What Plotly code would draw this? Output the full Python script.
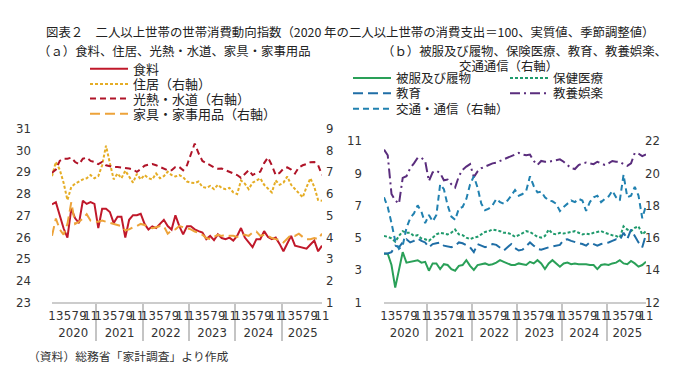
import plotly.graph_objects as go

# ---------------- data ----------------
years = [2020, 2021, 2022, 2023, 2024, 2025]
months_per_year = [12, 12, 12, 12, 12, 11]
month_tick_labels = ["1", " ", "3", "  ", "5", "   ", "7", "    ", "9", "     ", "11", "      "]

# (a) left axis
food = [27.5, 27.6, 27.0, 26.4, 25.97, 27.3, 26.86, 26.64, 27.67, 27.52, 27.6, 27.52,
        26.41, 27.3, 27.3, 27.15, 26.64, 26.93, 26.93, 25.97, 26.79, 27.0, 27.0, 27.07,
        26.6, 26.34, 26.49, 26.41, 26.6, 26.79, 26.5, 26.34, 27.0, 26.5, 26.12, 26.49,
        26.49, 26.35, 26.27, 26.2, 25.9, 26.05, 25.85, 26.12, 25.95, 25.9, 25.97, 25.83,
        26.05, 26.41, 25.97, 25.75, 25.53, 25.9, 25.9, 26.27, 26.0, 25.9, 25.97, 25.68,
        25.34, 25.7, 26.05, 25.6, 25.55, 25.53, 25.46, 25.65, 25.83, 25.34, 25.6]
# (a) right axis
housing = [6.8, 7.45, 7.1, 6.5, 5.7, 6.3, 6.45, 6.55, 6.65, 6.7, 6.85, 6.7,
           6.8, 7.3, 8.2, 7.4, 6.65, 6.92, 6.7, 7.05, 6.8, 6.5, 6.9, 6.65,
           6.85, 6.7, 6.65, 6.92, 6.7, 6.8, 7.0, 6.85, 6.78, 6.85, 6.75, 6.55,
           6.5, 6.48, 6.55, 6.3, 6.26, 6.35, 6.2, 6.4, 6.25, 6.2, 6.26, 6.05,
           5.97, 6.6, 6.45, 6.2, 6.5, 6.6, 6.7, 6.4, 6.2, 6.05, 6.6, 6.4,
           6.5, 6.78, 6.4, 6.2, 6.0, 5.82, 6.3, 6.7, 6.3, 5.7, 5.67]
utilities = [6.95, 7.1, 7.5, 7.6, 7.6, 7.65, 7.45, 7.35, 7.6, 7.65, 7.5, 7.45,
             7.35, 7.45, 7.3, 7.25, 7.22, 7.22, 7.2, 7.15, 7.15, 7.1, 7.0, 7.12,
             7.28, 7.33, 7.36, 7.3, 7.22, 7.15, 7.07, 7.07, 7.22, 7.22, 7.07, 7.3,
             7.8, 8.3, 7.85, 7.5, 7.4, 7.3, 7.2, 7.14, 7.15, 7.07, 7.0, 6.92,
             6.85, 6.72, 6.9, 7.07, 6.85, 6.95, 7.0, 7.4, 7.66, 7.3, 6.85, 6.95,
             7.14, 7.2, 7.1, 6.92, 7.2, 7.3, 7.36, 7.44, 7.45, 7.3, 6.85]
furniture = [4.05, 4.85, 4.35, 4.1, 4.6, 5.6, 4.6, 4.7, 4.85, 5.05, 4.75, 4.7,
             4.7, 4.75, 4.7, 4.65, 4.6, 4.55, 4.5, 4.3, 4.35, 4.45, 4.5, 4.6,
             4.55, 4.45, 4.4, 4.45, 4.5, 4.5, 4.15, 4.3, 4.35, 4.5, 4.45, 4.4,
             4.35, 4.25, 4.2, 4.1, 3.95, 3.9, 4.0, 4.1, 4.05, 4.1, 4.05, 4.05,
             4.0, 4.1, 4.1, 4.05, 4.2, 4.25, 4.05, 4.1, 4.05, 3.95, 3.9, 3.85,
             3.75, 3.95, 4.1, 4.05, 4.15, 4.0, 3.9, 3.9, 3.95, 3.9, 4.15]

# (b) left axis
clothing = [4.0, 4.0, 3.3, 1.9, 3.0, 4.1, 3.45, 3.5, 3.55, 3.6, 3.45, 3.5,
            2.95, 3.4, 3.4, 3.05, 3.35, 3.3, 3.05, 2.95, 3.25, 3.3, 3.6, 3.25,
            3.0, 3.3, 3.35, 3.4, 3.3, 3.35, 3.45, 3.6, 3.5, 3.4, 3.3, 3.3,
            3.4, 3.35, 3.3, 3.5, 3.4, 3.6, 3.4, 3.05, 3.4, 3.6, 3.4, 3.2,
            3.4, 3.45, 3.35, 3.4, 3.35, 3.35, 3.35, 3.3, 3.3, 3.05, 3.3, 3.35,
            3.3, 3.4, 3.45, 3.6, 3.4, 3.35, 3.55, 3.4, 3.2, 3.3, 3.5]
medical = [5.1, 5.05, 4.95, 4.75, 5.1, 5.4, 5.3, 5.3, 5.1, 5.15, 4.95, 4.9,
           4.8, 5.0, 5.2, 5.3, 5.25, 5.2, 5.3, 5.5, 5.2, 5.15, 5.0, 4.9,
           5.0, 5.05, 5.2, 5.35, 5.4, 5.5, 5.45, 5.4, 5.3, 5.3, 5.2, 5.05,
           5.15, 5.3, 5.4, 5.35, 5.2, 5.05, 5.0, 5.1, 5.5, 5.25, 5.2, 5.3,
           5.25, 5.3, 5.35, 5.4, 5.3, 5.2, 5.25, 5.2, 5.3, 5.35, 5.4, 5.3,
           5.2, 5.15, 5.1, 5.0, 5.7, 5.5, 5.4, 5.6, 5.7, 5.2, 5.4]
education = [4.02, 4.02, 4.1, 4.5, 4.4, 4.7, 4.9, 4.7, 4.8, 4.95, 4.8, 4.7,
             4.4, 4.6, 4.65, 4.7, 4.5, 4.45, 4.4, 4.5, 4.7, 4.65, 4.5, 4.4,
             4.1, 4.6, 4.5, 4.4, 4.5, 4.6, 4.55, 4.4, 4.2, 4.4, 4.6, 4.35,
             4.2, 4.25, 4.5, 4.7, 4.5, 4.3, 4.25, 4.35, 4.4, 4.45, 4.5, 4.55,
             4.85, 4.9, 4.8, 4.7, 4.65, 4.6, 4.5, 4.7, 4.6, 4.5, 4.6, 4.65,
             4.7, 4.8, 4.9, 4.85, 5.3, 4.9, 5.5, 5.1, 4.7, 4.4, 5.2]
recreation = [10.45, 10.1, 7.7, 7.3, 7.1, 8.7, 8.8, 9.3, 9.6, 9.95, 9.95, 9.75,
              8.5, 9.05, 9.15, 9.0, 8.55, 8.6, 8.3, 8.1, 8.8, 9.2, 9.4, 9.55,
              8.75, 9.1, 9.3, 9.4, 9.55, 9.6, 9.65, 9.75, 9.85, 9.95, 10.1, 10.2,
              10.25, 10.15, 10.1, 10.15, 9.75, 9.5, 9.75, 9.7, 9.7, 9.75, 9.8, 9.85,
              9.7, 9.5, 9.3, 9.25, 9.5, 9.6, 9.65, 9.6, 9.55, 9.7, 9.6, 9.5,
              9.6, 9.75, 9.7, 9.7, 9.55, 9.45, 9.6, 10.25, 10.2, 10.05, 10.15]
# (b) right axis
transport = [18.5, 17.9, 16.9, 15.8, 15.3, 15.5, 16.6, 17.2, 17.5, 18.0, 17.6, 16.9,
             17.4, 17.0, 17.4, 19.3, 19.0, 18.0, 17.3, 17.1, 17.8, 17.9, 18.4, 19.3,
             19.8, 19.1, 18.1, 17.7, 17.8, 18.0, 18.4, 18.2, 18.1, 18.3, 18.6, 18.95,
             18.6, 18.7, 18.9, 19.8, 19.2, 18.8, 18.85, 18.5, 18.3, 18.25, 18.1, 17.65,
             17.9, 18.1, 18.3, 18.2, 18.4, 18.3, 17.65, 18.2, 18.5, 18.6, 18.2, 18.4,
             18.55, 18.9, 18.5, 18.3, 19.9, 18.5, 18.6, 19.15, 18.6, 17.2, 18.0]

# categories (year / month) for the multicategory x axis
x_year, x_month = [], []
for yr, n in zip(years, months_per_year):
    for m in range(n):
        x_year.append(str(yr))
        x_month.append(month_tick_labels[m])
xcat = [x_year, x_month]

CJK = "Noto Sans CJK JP"
NUM = "Liberation Sans Narrow, DejaVu Sans Condensed, Roboto Condensed, sans-serif"
W, H = 680, 378

fig = go.Figure()

def add(name, y, color, dash, xa, ya, leg):
    fig.add_trace(go.Scatter(x=xcat, y=y, name=name, mode="lines",
                             line=dict(color=color, width=2, dash=dash),
                             xaxis=xa, yaxis=ya, legend=leg))

add("食料", food, "#c0182a", "solid", "x", "y", "legend")
add("住居（右軸）", housing, "#e5ad25", "3px,2px", "x", "y2", "legend2")
add("光熱・水道（右軸）", utilities, "#b01428", "6px,4px", "x", "y2", "legend3")
add("家具・家事用品（右軸）", furniture, "#eda33a", "10px,5px", "x", "y2", "legend4")

add("被服及び履物", clothing, "#2aa058", "solid", "x2", "y3", "legend5")
add("保健医療", medical, "#1f9a6c", "3px,2px", "x2", "y3", "legend6")
add("教育", education, "#1f6ea6", "10px,5px", "x2", "y3", "legend7")
add("教養娯楽", recreation, "#5a2d7d", "10px,4px,2px,4px", "x2", "y3", "legend8")
add("交通・通信（右軸）", transport, "#2181b0", "6px,4px", "x2", "y4", "legend9")

def px(x):
    return x / W

def py(y):
    return 1 - y / H

xcommon = dict(type="multicategory", showdividers=True, dividercolor="#c4c4c4",
               dividerwidth=2, showline=True, linecolor="#cccccc", linewidth=2,
               ticks="", tickangle=0, tickmode="linear", tick0=0, dtick=1,
               showgrid=False, zeroline=False,
               tickfont=dict(family=NUM, size=13, color="#333"))
ycommon = dict(showgrid=False, zeroline=False, showline=False, ticks="",
               tickfont=dict(family=NUM, size=13, color="#333"))

def leg(x, y, size):
    return dict(x=px(x), y=py(y), xanchor="left", yanchor="middle",
                bgcolor="rgba(0,0,0,0)", borderwidth=0,
                font=dict(family=CJK, size=size, color="#222"),
                itemwidth=38)

fig.update_layout(
    width=W, height=H, margin=dict(l=0, r=0, t=0, b=0),
    paper_bgcolor="white", plot_bgcolor="white",
    xaxis=dict(domain=[px(44), px(314)], anchor="y", **xcommon),
    yaxis=dict(domain=[py(299), py(118)], range=[23, 31], tick0=23, dtick=1, anchor="x",
               ticklabelstandoff=20, **ycommon),
    yaxis2=dict(overlaying="y", side="right", range=[1, 9], tick0=1, dtick=1, anchor="x",
                ticklabelstandoff=3, **ycommon),
    xaxis2=dict(domain=[px(376), px(638)], anchor="y3", **xcommon),
    yaxis3=dict(domain=[py(299), py(131)], range=[1, 11], tick0=1, dtick=2, anchor="x2",
                ticklabelstandoff=21, **ycommon),
    yaxis4=dict(overlaying="y3", side="right", range=[12, 22], tick0=12, dtick=2, anchor="x2",
                ticklabelstandoff=-2, **ycommon),
    legend=leg(77, 56, 13), legend2=leg(77, 72, 13), legend3=leg(77, 87, 13),
    legend4=leg(77, 103, 13),
    legend5=leg(340, 66, 12.5), legend6=leg(497, 66, 12.5), legend7=leg(340, 82, 12.5),
    legend8=leg(497, 82, 12.5), legend9=leg(340, 98, 12.5),
    showlegend=True,
)

ann_font = dict(family=CJK, size=12.4, color="#222")
fig.add_annotation(x=px(36), y=py(18), xref="paper", yref="paper", xanchor="left",
                   yanchor="middle", showarrow=False, font=ann_font,
                   text="図表２　二人以上世帯の世帯消費動向指数（2020 年の二人以上世帯の消費支出＝100、実質値、季節調整値）")
fig.add_annotation(x=px(28), y=py(37), xref="paper", yref="paper", xanchor="left",
                   yanchor="middle", showarrow=False, font=ann_font,
                   text="（ａ）食料、住居、光熱・水道、家具・家事用品")
fig.add_annotation(x=px(372), y=py(37), xref="paper", yref="paper", xanchor="left",
                   yanchor="middle", showarrow=False, font=ann_font,
                   text="（ｂ）被服及び履物、保険医療、教育、教養娯楽、")
fig.add_annotation(x=px(500), y=py(53), xref="paper", yref="paper", xanchor="center",
                   yanchor="middle", showarrow=False, font=ann_font,
                   text="交通通信（右軸）")
fig.add_annotation(x=px(18), y=py(355), xref="paper", yref="paper", xanchor="left",
                   yanchor="middle", showarrow=False,
                   font=dict(family=CJK, size=11.8, color="#333"),
                   text="（資料）総務省「家計調査」より作成")

fig.write_html("out.html")
